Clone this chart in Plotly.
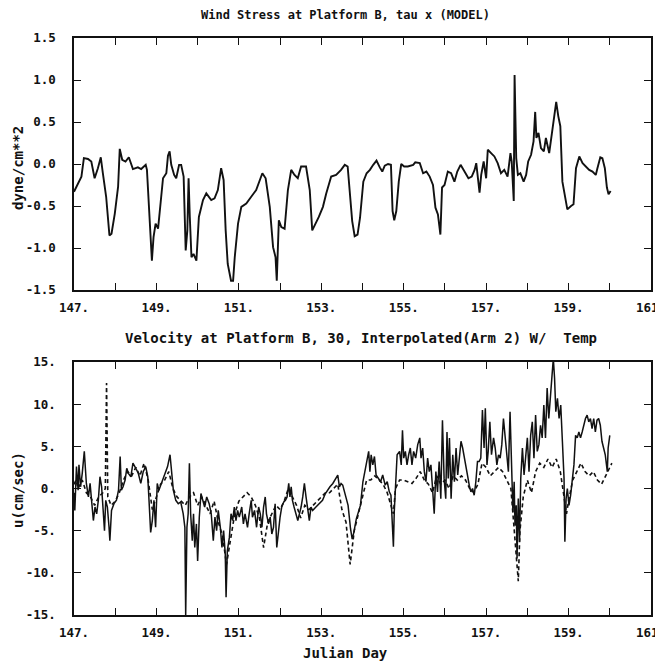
import plotly.graph_objects as go

# ---------------- Data ----------------
# Top panel: wind stress tau x (dyne/cm**2) vs Julian day
wind_day = [
    147.00, 147.10, 147.18, 147.24, 147.34, 147.42, 147.50, 147.58, 147.65, 147.70,
    147.78, 147.86, 147.91, 147.99, 148.07, 148.11, 148.17, 148.25, 148.33, 148.43,
    148.55, 148.63, 148.74, 148.77, 148.84, 148.89, 148.93, 148.98, 149.04, 149.09,
    149.16, 149.24, 149.28, 149.32, 149.36, 149.43, 149.48, 149.55, 149.60, 149.66,
    149.71, 149.75, 149.78, 149.81, 149.85, 149.90, 149.97, 150.03, 150.13, 150.21,
    150.33, 150.41, 150.49, 150.57, 150.63, 150.68, 150.73, 150.81, 150.86, 150.90,
    150.98, 151.06, 151.18, 151.30, 151.42, 151.57, 151.65, 151.75, 151.83, 151.89,
    151.92, 151.97, 152.03, 152.11, 152.19, 152.27, 152.35, 152.43, 152.51, 152.63,
    152.72, 152.78, 152.86, 152.94, 153.04, 153.12, 153.24, 153.36, 153.48, 153.57,
    153.64, 153.69, 153.75, 153.81, 153.88, 153.94, 154.02, 154.10, 154.18, 154.26,
    154.34, 154.42, 154.48, 154.54, 154.62, 154.69, 154.73, 154.77, 154.82, 154.88,
    154.94, 155.01, 155.10, 155.23, 155.28, 155.39, 155.47, 155.55, 155.63, 155.71,
    155.77, 155.83, 155.89, 155.93, 155.99, 156.07, 156.15, 156.23, 156.30, 156.38,
    156.48, 156.57, 156.65, 156.72, 156.76, 156.80, 156.84, 156.88, 156.94, 157.00,
    157.04, 157.12, 157.20, 157.28, 157.36, 157.44, 157.52, 157.59, 157.62, 157.67,
    157.69, 157.73, 157.77, 157.83, 157.91, 157.97, 158.02, 158.09, 158.15, 158.19,
    158.22, 158.27, 158.33, 158.40, 158.45, 158.53, 158.59, 158.65, 158.70, 158.75,
    158.80, 158.85, 158.91, 158.97, 159.06, 159.12, 159.18, 159.26, 159.34, 159.42,
    159.50, 159.58, 159.66, 159.70, 159.77, 159.82, 159.88, 159.93, 159.97, 160.02,
]
wind_tau = [
    -0.33, -0.23, -0.15, 0.07, 0.06, 0.03, -0.17, -0.05, 0.08, -0.11,
    -0.39, -0.85, -0.83, -0.59, -0.27, 0.18, 0.05, 0.03, 0.08, -0.06,
    -0.04, -0.06, -0.01, -0.07, -0.63, -1.15, -0.87, -0.71, -0.77, -0.51,
    -0.17, -0.11, 0.10, 0.15, -0.01, -0.13, -0.17, -0.01, -0.01, -0.15,
    -1.03, -0.79, -0.17, -0.63, -1.11, -1.07, -1.15, -0.63, -0.43, -0.35,
    -0.43, -0.41, -0.31, -0.05, -0.19, -0.79, -1.19, -1.39, -1.39, -1.11,
    -0.71, -0.51, -0.47, -0.39, -0.31, -0.11, -0.17, -0.51, -0.99, -1.11,
    -1.39, -0.67, -0.75, -0.77, -0.31, -0.07, -0.13, -0.17, -0.03, -0.03,
    -0.31, -0.79, -0.71, -0.63, -0.51, -0.35, -0.15, -0.13, -0.07, -0.01,
    -0.03, -0.32, -0.68, -0.86, -0.84, -0.64, -0.21, -0.11, -0.07, -0.01,
    0.04, -0.04, -0.09, -0.02, 0.00, -0.01, -0.56, -0.67, -0.56, -0.21,
    0.00, -0.03, -0.03, -0.01, 0.02, 0.01, -0.11, -0.09, -0.15, -0.25,
    -0.52, -0.60, -0.84, -0.28, -0.25, -0.09, -0.11, -0.21, -0.09, -0.01,
    -0.09, -0.17, -0.15, -0.07, 0.01, -0.17, -0.34, -0.13, 0.03, -0.17,
    0.17, 0.13, 0.09, 0.01, -0.11, -0.07, -0.15, 0.13, 0.03, -0.44,
    1.06, 0.07, -0.13, -0.11, -0.21, -0.13, 0.03, 0.11, 0.27, 0.62,
    0.31, 0.37, 0.19, 0.15, 0.31, 0.13, 0.35, 0.51, 0.74, 0.57,
    0.45, -0.21, -0.36, -0.54, -0.50, -0.48, -0.05, 0.09, 0.01, -0.03,
    -0.07, -0.09, -0.13, -0.05, 0.08, 0.07, -0.05, -0.28, -0.36, -0.32,
]

# Bottom panel: velocity u (cm/sec), solid series
vel_day = [
    147.00, 147.02, 147.06, 147.10, 147.12, 147.16, 147.20, 147.25, 147.30, 147.35,
    147.39, 147.43, 147.47, 147.51, 147.55, 147.59, 147.63, 147.67, 147.70, 147.74,
    147.77, 147.81, 147.85, 147.87, 147.91, 147.97, 148.03, 148.08, 148.12, 148.15,
    148.19, 148.24, 148.28, 148.32, 148.38, 148.43, 148.50, 148.56, 148.62, 148.68,
    148.74, 148.79, 148.82, 148.86, 148.90, 148.94, 148.98, 149.02, 149.06, 149.12,
    149.19, 149.27, 149.33, 149.37, 149.41, 149.47, 149.53, 149.59, 149.65, 149.69,
    149.71, 149.74, 149.77, 149.80, 149.83, 149.87, 149.90, 149.93, 149.97, 150.00,
    150.04, 150.08, 150.12, 150.17, 150.22, 150.28, 150.33, 150.38, 150.42, 150.46,
    150.50, 150.55, 150.59, 150.63, 150.67, 150.69, 150.72, 150.77, 150.81, 150.85,
    150.89, 150.93, 150.97, 151.01, 151.07, 151.11, 151.15, 151.21, 151.25, 151.30,
    151.33, 151.38, 151.43, 151.48, 151.52, 151.56, 151.60, 151.64, 151.67, 151.72,
    151.76, 151.80, 151.84, 151.88, 151.92, 151.96, 152.00, 152.04, 152.09, 152.13,
    152.17, 152.21, 152.24, 152.27, 152.30, 152.34, 152.38, 152.43, 152.47, 152.51,
    152.55, 152.59, 152.63, 152.67, 152.71, 152.75, 152.79, 152.87, 152.95, 153.03,
    153.10, 153.15, 153.21, 153.28, 153.33, 153.40, 153.44, 153.48, 153.52, 153.58,
    153.65, 153.71, 153.75, 153.79, 153.85, 153.90, 153.95, 154.01, 154.06, 154.11,
    154.15, 154.18, 154.21, 154.25, 154.29, 154.33, 154.39, 154.44, 154.49, 154.55,
    154.60, 154.65, 154.69, 154.72, 154.75, 154.77, 154.81, 154.84, 154.90, 154.94,
    154.97, 155.00, 155.04, 155.08, 155.12, 155.16, 155.20, 155.24, 155.29, 155.34,
    155.39, 155.42, 155.46, 155.50, 155.54, 155.58, 155.62, 155.66, 155.70, 155.74,
    155.78, 155.82, 155.86, 155.90, 155.94, 155.98, 156.02, 156.05, 156.08, 156.11,
    156.15, 156.19, 156.23, 156.27, 156.31, 156.35, 156.39, 156.43, 156.47, 156.51,
    156.55, 156.59, 156.63, 156.67, 156.71, 156.75, 156.79, 156.83, 156.87, 156.91,
    156.95, 156.98, 157.02, 157.05, 157.09, 157.13, 157.18, 157.22, 157.26, 157.30,
    157.34, 157.38, 157.42, 157.46, 157.50, 157.54, 157.58, 157.61, 157.65, 157.68,
    157.70, 157.73, 157.75, 157.78, 157.81, 157.84, 157.88, 157.92, 157.96, 158.00,
    158.04, 158.08, 158.12, 158.16, 158.20, 158.24, 158.28, 158.32, 158.36, 158.40,
    158.44, 158.48, 158.52, 158.56, 158.60, 158.63, 158.66, 158.69, 158.73, 158.77,
    158.81, 158.85, 158.89, 158.91, 158.94, 158.97, 159.01, 159.05, 159.09, 159.13,
    159.17, 159.21, 159.25, 159.29, 159.33, 159.37, 159.41, 159.45, 159.49, 159.53,
    159.57, 159.61, 159.65, 159.69, 159.73, 159.77, 159.81, 159.85, 159.89, 159.94,
    159.96, 160.00,
]
vel_u = [
    -0.5, -2.6, 2.6, -0.2, 2.8, 0.2, 1.8, 4.4, 0.6, -1.0,
    0.6, -2.2, -3.8, -2.2, -3.0, -1.4, 1.4, 0.2, -2.2, -5.0,
    -1.4, -2.2, -4.6, -6.2, -2.6, -1.8, -1.4, -0.2, 3.8, -0.2,
    0.2, 1.0, 2.4, 1.8, 1.4, 3.0, 2.4, 1.8, 0.6, 2.0,
    2.6, 1.4, -1.4, -5.2, -3.8, -1.4, -4.6, 0.6, -0.2, 0.6,
    1.6, 2.6, 4.0, 2.2, -0.2, -1.4, -1.8, -1.6, -3.0, -4.6,
    -15.0, -4.6, -3.0, 3.0, -3.0, -6.2, -3.0, -7.0, -4.2, -8.6,
    -3.4, -0.6, -1.4, -2.2, -1.0, -1.8, -3.0, -6.2, -3.4, -5.0,
    -2.6, -4.6, -7.0, -5.0, -7.8, -12.9, -7.4, -5.8, -3.0, -3.8,
    -2.2, -3.8, -2.6, -3.4, -2.2, -4.2, -3.0, -4.6, -3.0, -1.4,
    -3.4, -2.6, -4.6, -2.2, -3.0, -4.6, -2.2, -1.0, -3.0, -4.2,
    -3.4, -5.4, -4.6, -1.8, -7.0, -5.0, -3.4, -2.2, -1.6, -1.4,
    -1.0, 0.6, -1.0, 0.2, -1.4, -2.2, -3.0, -3.8, -3.0, -2.2,
    -1.0, 0.6, -1.0, -2.2, -3.8, -2.2, -2.6, -2.2, -1.8, -1.4,
    -0.6, -0.2, 0.2, 0.6, 1.0, 1.6, 0.2, 0.6, 0.4, -0.8,
    -2.0, -4.8, -6.0, -5.2, -3.6, -2.8, -2.0, 0.8, 2.0, 3.6,
    4.4, 2.0, 4.0, 2.8, 3.8, 1.6, 1.2, 0.8, 1.6, 0.4,
    0.8, -0.4, -0.8, -4.4, -6.9, -2.8, 2.0, 4.0, 4.4, 2.8,
    6.9, 3.6, 4.4, 2.8, 4.0, 4.8, 2.8, 4.4, 3.6, 5.2,
    6.0, 3.6, 4.8, 2.0, 0.8, 3.6, 2.0, 2.8, 0.0, -3.0,
    2.0, -0.4, 3.2, -1.2, 8.1, 1.2, -1.2, 6.7, 1.2, 6.0,
    -1.2, 4.0, 0.8, 4.8, 1.6, 4.0, 5.6, 4.8, 3.6, 2.8,
    1.6, 0.4, -0.4, 0.0, -0.8, 0.8, 3.2, 3.2, 3.6, 9.3,
    4.8, 9.5, 2.8, 4.4, 7.9, 4.0, 6.0, 4.8, 2.8, 4.0,
    3.6, 5.2, 8.3, 6.0, 3.6, 2.0, 9.1, 4.0, -2.8, 0.8,
    -4.4, -2.0, -8.3, -1.2, -6.3, 1.2, 4.8, 1.6, 3.6, 6.0,
    2.0, 6.3, 7.9, 3.6, 8.7, 4.4, 5.2, 7.5, 6.0, 9.9,
    6.0, 11.9, 8.3, 11.5, 13.5, 15.4, 13.1, 9.1, 10.7, 8.3,
    9.9, 5.6, 1.2, -6.3, -1.2, 0.0, -2.0, -0.8, 1.2, 2.8,
    6.3, 6.0, 6.7, 6.0, 6.7, 7.5, 8.3, 8.7, 7.9, 8.3,
    7.1, 8.3, 6.7, 8.1, 8.3, 7.5, 5.6, 4.8, 4.0, 2.0,
    4.8, 6.3,
]

# Bottom panel: dashed (temperature-interpolated) series
temp_day = [
    147.00, 147.05, 147.10, 147.15, 147.20, 147.30, 147.40, 147.50, 147.60, 147.70,
    147.76, 147.79, 147.82, 147.90, 148.00, 148.10, 148.20, 148.30, 148.40, 148.50,
    148.60, 148.70, 148.80, 148.90, 149.00, 149.10, 149.20, 149.30, 149.40, 149.50,
    149.60, 149.70, 149.80, 149.90, 150.00, 150.10, 150.20, 150.30, 150.40, 150.50,
    150.60, 150.70, 150.80, 150.90, 151.00, 151.10, 151.20, 151.30, 151.40, 151.50,
    151.60, 151.70, 151.80, 151.90, 152.00, 152.10, 152.20, 152.30, 152.40, 152.50,
    152.60, 152.70, 152.80, 152.90, 153.00, 153.10, 153.20, 153.30, 153.40, 153.50,
    153.60, 153.70, 153.80, 153.90, 154.00, 154.10, 154.20, 154.30, 154.40, 154.50,
    154.60, 154.70, 154.75, 154.80, 154.90, 155.00, 155.10, 155.20, 155.30, 155.40,
    155.50, 155.60, 155.70, 155.80, 155.90, 156.00, 156.10, 156.20, 156.30, 156.40,
    156.50, 156.60, 156.70, 156.80, 156.90, 157.00, 157.10, 157.20, 157.30, 157.40,
    157.50, 157.60, 157.65, 157.70, 157.75, 157.78, 157.82, 157.90, 158.00, 158.10,
    158.20, 158.30, 158.40, 158.50, 158.60, 158.70, 158.80, 158.90, 158.95, 159.00,
    159.10, 159.20, 159.30, 159.40, 159.50, 159.60, 159.70, 159.80, 159.90, 160.00,
    160.05,
]
temp_u = [
    0.5, 1.0, 0.0, 0.5, 1.0, -0.5, -1.0, -2.0, -1.0, -0.5,
    0.0, 12.5, -1.0, -2.0, -1.5, -0.5, 1.0, 2.0, 1.5, 2.5,
    1.5, 3.0, 1.0, -2.5, -1.0, 0.5, 1.0, 2.0, 0.0, -1.0,
    -1.5, -2.0, -1.0, -0.5, -2.0, -1.0, -2.0, -3.0, -1.5, -4.0,
    -5.5, -9.0, -6.0, -3.0, -1.5, -1.0, -0.5, -1.0, -2.0, -3.5,
    -7.0, -4.0, -3.0, -2.0, -2.5, -1.5, 0.0, -1.0, -2.0, -3.5,
    -2.0, -2.5, -2.0, -1.5, -1.0, -0.5, -0.5, 0.0, 0.5, -2.5,
    -4.0, -9.0, -5.0, -3.0, -1.0, 1.0, 1.0, 1.5, 1.0, 0.5,
    -0.5, -2.0, -3.0, 0.0, 1.0, 1.0, 0.8, 0.6, 1.2, 2.0,
    1.0, 0.5, -0.5, 1.5, 0.5, 1.0, 0.0, 1.5, 1.0, 1.5,
    1.0, 0.0, -0.5, 0.5, 3.0, 2.5, 1.5, 2.0, 2.5, 2.0,
    1.0, 0.0, -3.0, -6.0, -9.0, -11.0, -5.0, -1.0, 1.0, -0.5,
    2.0, 3.0, 2.5, 3.5, 2.5, 3.5, 2.0, -1.5, -3.0, -1.5,
    1.0, 2.0, 3.0, 2.0, 1.5, 2.0, 1.0, 0.5, 1.5, 2.5,
    3.0,
]

# Axis ticks
day_ticks = list(range(147, 162))
day_labels = [f"{d}." if d % 2 == 1 else "" for d in day_ticks]
tau_ticks = [-1.5, -1.0, -0.5, 0.0, 0.5, 1.0, 1.5]
tau_labels = ["-1.5", "-1.0", "-0.5", "0.0", "0.5", "1.0", "1.5"]
u_ticks = [-15, -10, -5, 0, 5, 10, 15]
u_labels = ["-15.", "-10.", "-5.", "0.", "5.", "10.", "15."]

# ---------------- Figure ----------------
# The page body has an 8px margin, so the figure is sized to the visible
# window and window-pixel positions are converted with that offset.
OFF = 8
FW, FH = 663 - OFF, 666 - OFF
FONT = "DejaVu Sans Mono"
INK = "#111111"


def px(xw):
    return (xw - OFF) / FW


def py(yw):
    return 1 - (yw - OFF) / FH


fig = go.Figure()
fig.add_trace(go.Scatter(x=wind_day, y=wind_tau, mode="lines",
                         line=dict(color=INK, width=1.9),
                         xaxis="x", yaxis="y", showlegend=False))
fig.add_trace(go.Scatter(x=temp_day, y=temp_u, mode="lines",
                         line=dict(color=INK, width=1.6, dash="4px,3px"),
                         xaxis="x2", yaxis="y2", showlegend=False))
fig.add_trace(go.Scatter(x=vel_day, y=vel_u, mode="lines",
                         line=dict(color=INK, width=1.5),
                         xaxis="x2", yaxis="y2", showlegend=False))

xdom = [px(74), px(651)]
top_dom = [py(290), py(38)]
bot_dom = [py(615), py(362)]

tick_font = dict(family=FONT, size=12.5, color=INK, weight="bold")
axis_common = dict(showline=True, linecolor=INK, linewidth=1.5, mirror="ticks",
                   ticks="inside", ticklen=7, tickwidth=1.3, tickcolor=INK,
                   showgrid=False, zeroline=False, automargin=False,
                   tickfont=tick_font)

# the last x label ("161.") is written as an annotation so that it is not
# dropped at the right page edge
x_labels_axis = [lab if d != day_ticks[-1] else "" for d, lab in zip(day_ticks, day_labels)]

fig.update_layout(
    width=FW, height=FH,
    margin=dict(l=0, r=0, t=0, b=0),
    paper_bgcolor="white", plot_bgcolor="white",
    xaxis=dict(domain=xdom, range=[147, 161], tickmode="array",
               tickvals=day_ticks, ticktext=x_labels_axis, anchor="y",
               ticklabelstandoff=5, **axis_common),
    yaxis=dict(domain=top_dom, range=[-1.5, 1.5], tickmode="array",
               tickvals=tau_ticks, ticktext=tau_labels, anchor="x",
               ticklabelstandoff=14, **axis_common),
    xaxis2=dict(domain=xdom, range=[147, 161], tickmode="array",
                tickvals=day_ticks, ticktext=x_labels_axis, anchor="y2",
                ticklabelstandoff=5, **axis_common),
    yaxis2=dict(domain=bot_dom, range=[-15, 15], tickmode="array",
                tickvals=u_ticks, ticktext=u_labels, anchor="x2",
                ticklabelstandoff=14, **axis_common),
)

for xr, yr in (("x", "y"), ("x2", "y2")):
    fig.add_annotation(text=day_labels[-1], x=day_ticks[-1], xref=xr,
                       y=0, yref=yr + " domain", yanchor="top", yshift=-8,
                       xanchor="center", showarrow=False, font=tick_font)

title_font = dict(family=FONT, size=12, color=INK, weight="bold")
big_font = dict(family=FONT, size=14, color=INK, weight="bold")


def label(text, xw, yw, font, angle=0):
    fig.add_annotation(text=text, x=px(xw), y=py(yw), xref="paper", yref="paper",
                       xanchor="center", yanchor="middle", textangle=angle,
                       showarrow=False, font=font)


label("Wind Stress at Platform B, tau x (MODEL)", 345, 15, title_font)
label("Velocity at Platform B, 30, Interpolated(Arm 2) W/  Temp", 361, 338, big_font)
label("Julian Day", 345, 653, big_font)
label("dyne/cm**2", 18, 168, big_font, -90)
label("u(cm/sec)", 18, 490, big_font, -90)

fig.write_html("out.html")
